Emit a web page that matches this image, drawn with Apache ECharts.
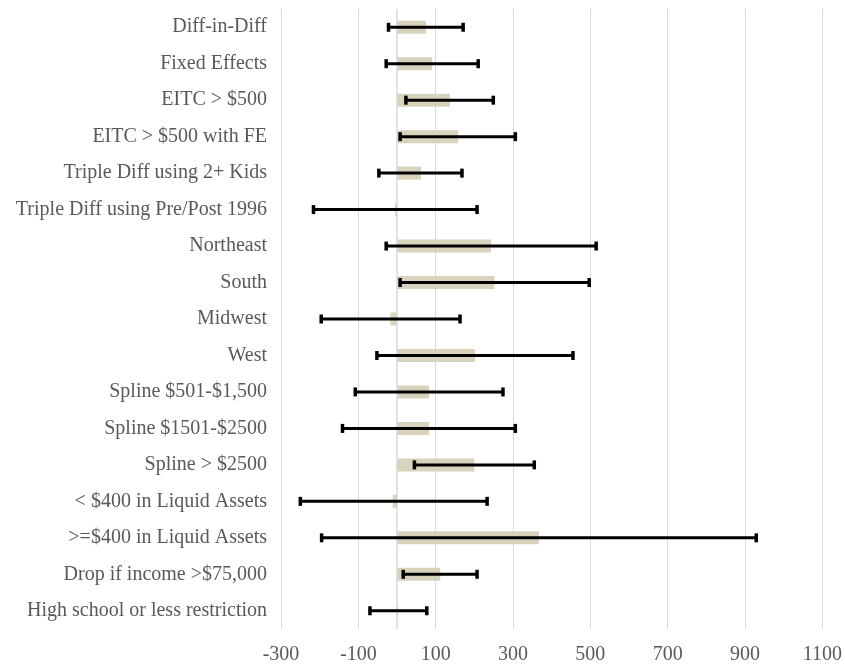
<!DOCTYPE html>
<html>
<head>
<meta charset="utf-8">
<script src="https://cdn.jsdelivr.net/npm/echarts@6/dist/echarts.min.js"></script>
<style>
  html, body { margin: 0; padding: 0; background: #fff; }
  #chart { width: 845px; height: 667px; }
</style>
</head>
<body>
<div id="chart"></div>
<script>
// categories, top to bottom
const categories = [
  'Diff-in-Diff', 'Fixed Effects', 'EITC > $500', 'EITC > $500 with FE',
  'Triple Diff using 2+ Kids', 'Triple Diff using Pre/Post 1996',
  'Northeast', 'South', 'Midwest', 'West',
  'Spline $501-$1,500', 'Spline $1501-$2500', 'Spline > $2500',
  '< $400 in Liquid Assets', '>=$400 in Liquid Assets',
  'Drop if income >$75,000', 'High school or less restriction'
]
// point estimates
const estimates = [75, 91, 137, 158, 62, -5, 243, 252, -17, 202, 83, 83, 200, -11, 367, 112, 3]
// confidence interval bounds
const lower = [-22, -28, 23, 8, -47, -216, -28, 8, -196, -52, -108, -141, 45, -250, -195, 16, -70]
const upper = [171, 210, 249, 306, 168, 207, 515, 497, 163, 455, 274, 306, 355, 233, 929, 207, 77]

const chart = echarts.init(document.getElementById('chart'))

const errorData = categories.map((c, i) => [i, lower[i], upper[i]])

const option = {
  animation: false,
  textStyle: {fontFamily: 'Liberation Serif'},
  grid: {left: 281, right: 20, top: 9, bottom: 38},
  xAxis: {
    type: 'value',
    min: -300,
    max: 1100,
    interval: 200,
    axisLine: {show: false},
    axisTick: {show: false},
    axisLabel: {
      color: '#595959', fontSize: 20, margin: 16, fontFamily: 'Liberation Serif',
      formatter: v => String(v)
    },
    splitLine: {lineStyle: {color: '#d9d9d9', width: 1}}
  },
  yAxis: {
    type: 'category',
    inverse: true,
    data: categories,
    axisLine: {show: false},
    axisTick: {show: false},
    axisLabel: {color: '#595959', fontSize: 20, margin: 14, fontFamily: 'Liberation Serif'}
  },
  series: [
    {
      type: 'bar',
      data: estimates,
      barWidth: 13,
      itemStyle: {color: '#d8d3bc'},
      markLine: {
        silent: true,
        symbol: 'none',
        label: {show: false},
        lineStyle: {color: '#d9d9d9', width: 1.5, type: 'solid'},
        data: [{xAxis: 0}]
      }
    },
    {
      type: 'custom',
      data: errorData,
      z: 10,
      renderItem: (params, api) => {
        const idx = api.value(0)
        const lo = api.coord([api.value(1), idx])
        const hi = api.coord([api.value(2), idx])
        const cap = 4.5
        const style = {stroke: '#000', lineWidth: 3}
        const capStyle = {stroke: '#000', lineWidth: 3.5}
        return {
          type: 'group',
          children: [
            {type: 'line', shape: {x1: lo[0], y1: lo[1], x2: hi[0], y2: hi[1]}, style},
            {type: 'line', shape: {x1: lo[0], y1: lo[1] - cap, x2: lo[0], y2: lo[1] + cap}, style: capStyle},
            {type: 'line', shape: {x1: hi[0], y1: hi[1] - cap, x2: hi[0], y2: hi[1] + cap}, style: capStyle}
          ]
        }
      },
      encode: {x: [1, 2], y: 0}
    }
  ]
}

chart.setOption(option)
</script>
</body>
</html>
